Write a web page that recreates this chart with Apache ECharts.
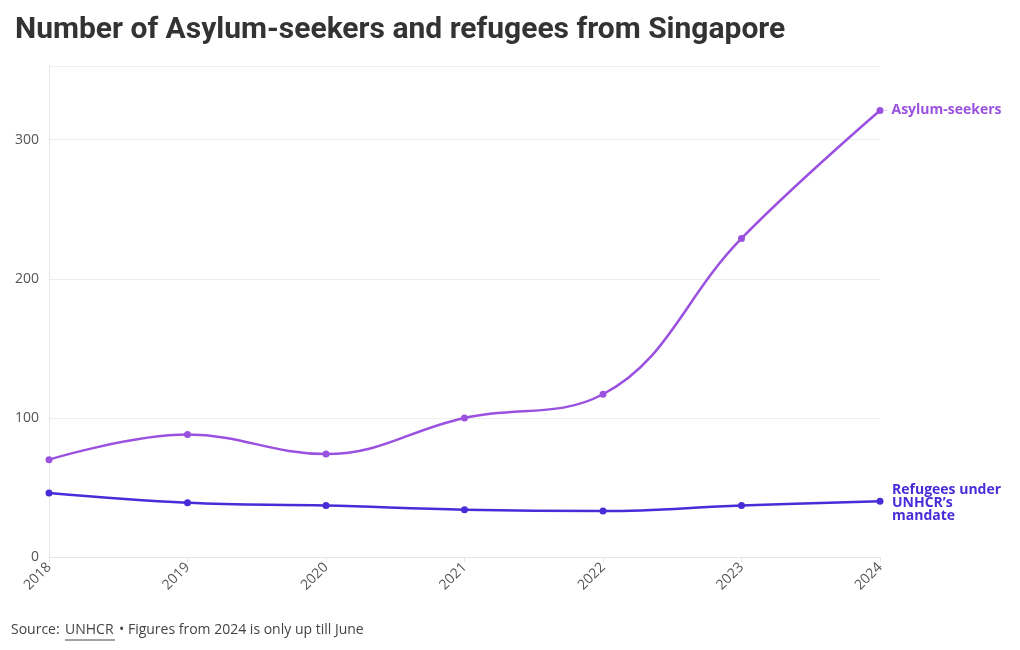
<!DOCTYPE html>
<html>
<head>
<meta charset="utf-8">
<script src="https://cdn.jsdelivr.net/npm/echarts@6/dist/echarts.min.js"></script>
<style>
html,body{margin:0;padding:0;background:#fff;}
#chart{width:1020px;height:650px;}
</style>
</head>
<body>
<div id="chart"></div>
<script>
const years = ['2018','2019','2020','2021','2022','2023','2024'];
const asylumSeekers = [70, 88, 74, 100, 117, 229, 321];
const refugees = [46, 39, 37, 34, 33, 37, 40];
const yTicks = [0, 100, 200, 300];

const chart = echarts.init(document.getElementById('chart'));
const font = '"Open Sans", "Noto Sans", sans-serif';
const tfont = 'Roboto, sans-serif';
chart.setOption({
  backgroundColor: '#fff',
  animation: false,
  title: {
    text: 'Number of Asylum-seekers and refugees from Singapore',
    left: 10, top: 10,
    textStyle: {fontFamily: tfont, fontSize: 30, fontWeight: 'bold', color: '#333'}
  },
  grid: {left: 49, right: 140, top: 66, bottom: 93},
  xAxis: {
    type: 'category', data: years, boundaryGap: false,
    axisLine: {show: true, lineStyle: {color: '#e6e6e6'}},
    axisTick: {show: true, length: 5, lineStyle: {color: '#e6e6e6'}},
    splitLine: {show: false},
    axisLabel: {rotate: 45, fontFamily: font, fontSize: 14, color: '#555', margin: 8}
  },
  yAxis: {
    type: 'value', min: 0, max: 353, interval: 100,
    axisLine: {show: true, lineStyle: {color: '#e6e6e6'}}, axisTick: {show: false},
    splitLine: {lineStyle: {color: '#eeeeee'}},
    axisLabel: {fontFamily: font, fontSize: 14, color: '#555', margin: 10,
      formatter: v => yTicks.includes(v) ? String(v) : ''}
  },
  series: [
    {
      name: 'Asylum-seekers', type: 'line', data: asylumSeekers, smooth: 0.4,
      symbol: 'circle', symbolSize: 7,
      itemStyle: {color: '#9b51e0'}, lineStyle: {width: 2.5, color: '#9b51e0'},
      endLabel: {show: true, formatter: '{d|-} Asylum-seekers', distance: 4,
        fontFamily: font, fontSize: 14, fontWeight: 'bold', color: '#9b51e0',
        rich: {d: {color: '#d8c4f2', fontSize: 12, fontWeight: 'normal'}}}
    },
    {
      name: "Refugees under UNHCR's mandate", type: 'line', data: refugees, smooth: 0.4,
      symbol: 'circle', symbolSize: 7,
      itemStyle: {color: '#4a2bd8'}, lineStyle: {width: 2.5, color: '#4a2bd8'},
      endLabel: {show: true, formatter: 'Refugees under\nUNHCR\u2019s\nmandate', distance: 12,
        offset: [0, 2],
        fontFamily: font, fontSize: 14, fontWeight: 'bold', color: '#4a2bd8', lineHeight: 13, align: 'left'}
    }
  ],
  graphic: [
    {type: 'text', left: 11, top: 623, style: {text: 'Source:', font: '14px ' + font, fill: '#444'}},
    {type: 'text', left: 65, top: 623, style: {text: 'UNHCR', font: '14px ' + font, fill: '#444'}},
    {type: 'line', shape: {x1: 65, y1: 640, x2: 115, y2: 640}, style: {stroke: '#444', lineWidth: 1}},
    {type: 'text', left: 119, top: 623, style: {text: '\u2022 Figures from 2024 is only up till June', font: '14px ' + font, fill: '#444'}}
  ]
});
</script>
</body>
</html>
